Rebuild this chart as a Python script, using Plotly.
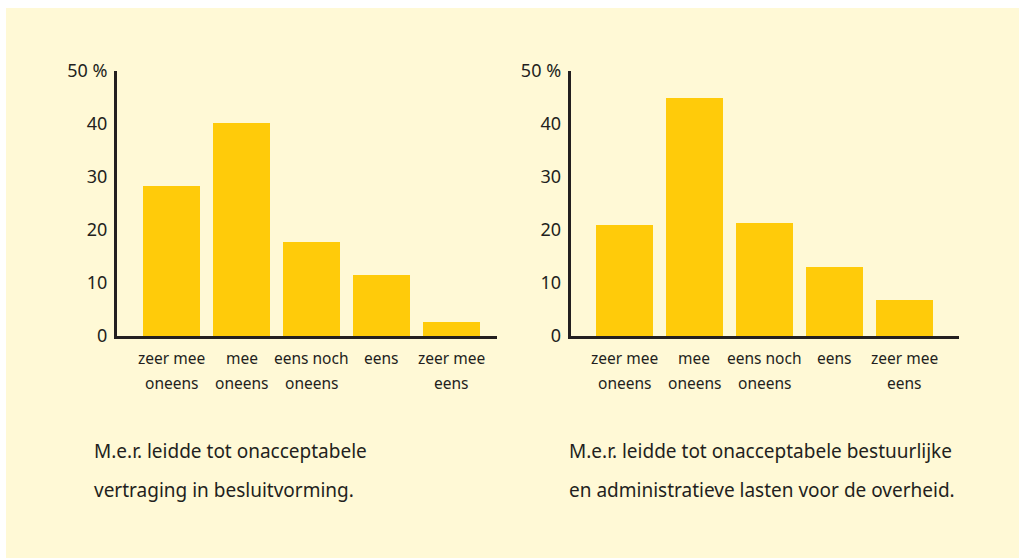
import plotly.graph_objects as go

categories = ["zeer mee\noneens", "mee\noneens", "eens noch\noneens", "eens", "zeer mee\neens"]
values_left = [28.3, 40.2, 17.7, 11.5, 2.6]
values_right = [20.9, 44.9, 21.3, 13.0, 6.8]
tick_vals = [0, 10, 20, 30, 40, 50]
tick_text = ["0", "10", "20", "30", "40", "50 %"]
caption_left = ["M.e.r. leidde tot onacceptabele", "vertraging in besluitvorming."]
caption_right = ["M.e.r. leidde tot onacceptabele bestuurlijke", "en administratieve lasten voor de overheid."]

W, H = 1019, 558
BG = "#FFF9D6"
BAR = "#FFCB0A"
INK = "#231F20"
FONT = "Noto Sans, Liberation Sans, sans-serif"

fig = go.Figure()
xs = list(range(len(categories)))
fig.add_trace(go.Bar(x=xs, y=values_left, width=0.814, marker=dict(color=BAR, line=dict(width=0)),
                     xaxis="x", yaxis="y", showlegend=False, hoverinfo="skip"))
fig.add_trace(go.Bar(x=xs, y=values_right, width=0.814, marker=dict(color=BAR, line=dict(width=0)),
                     xaxis="x2", yaxis="y2", showlegend=False, hoverinfo="skip"))

ydom = [(H - 336) / H, (H - 71) / H]
common_y = dict(range=[0, 50], tickvals=tick_vals, ticktext=tick_text, showgrid=False, zeroline=False,
                showline=True, linecolor=INK, linewidth=3, ticks="", ticklabelstandoff=3,
                tickfont=dict(family=FONT, size=18, color=INK), domain=ydom)
common_x = dict(showgrid=False, zeroline=False, showline=True, linecolor=INK, linewidth=3,
                showticklabels=False, ticks="")

fig.update_layout(
    width=W, height=H,
    margin=dict(l=0, r=0, t=0, b=0, pad=0, autoexpand=False),
    paper_bgcolor="white", plot_bgcolor="rgba(0,0,0,0)",
    xaxis=dict(domain=[117 / W, 497 / W], range=[-0.78, 4.649], anchor="y", **common_x),
    yaxis=dict(anchor="x", **common_y),
    xaxis2=dict(domain=[570.7 / W, 959 / W], range=[-0.766, 4.781], anchor="y2", **common_x),
    yaxis2=dict(anchor="x2", **common_y),
    bargap=0,
    hovermode=False,
)

fig.add_shape(type="rect", xref="paper", yref="paper", x0=6 / W, x1=1, y0=0, y1=(H - 8) / H,
              fillcolor=BG, line=dict(width=0), layer="below")

ann = []
for xa in ["x", "x2"]:
    for i, c in enumerate(categories):
        for j, line in enumerate(c.split("\n")):
            ann.append(dict(x=i, xref=xa, y=(H - (358 + 25 * j)) / H, yref="paper", text=line,
                            showarrow=False, xanchor="center", yanchor="middle",
                            font=dict(family=FONT, size=15.5, color=INK)))
for x0, lines in [(92, caption_left), (567, caption_right)]:
    for j, line in enumerate(lines):
        ann.append(dict(x=x0 / W, xref="paper", y=(H - (451 + 39 * j)) / H, yref="paper", text=line,
                        showarrow=False, xanchor="left", yanchor="middle",
                        font=dict(family=FONT, size=19, color=INK)))
fig.update_layout(annotations=ann)

fig.write_html("out.html", config={"displayModeBar": False, "staticPlot": True},
               post_script="document.body.style.margin='0';document.body.style.overflow='hidden';")
